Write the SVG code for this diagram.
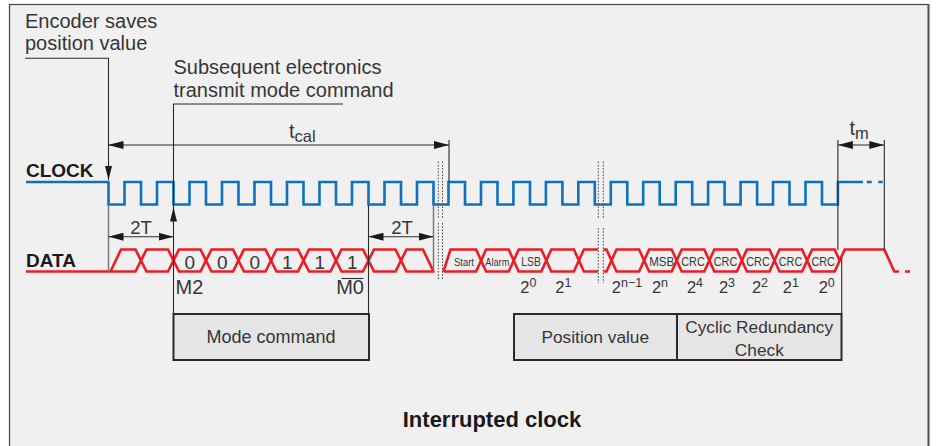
<svg xmlns="http://www.w3.org/2000/svg" width="936" height="446" viewBox="0 0 936 446">
<style>
.t{font-family:"Liberation Sans",Arial,sans-serif;fill:#363636;font-size:20px}
.b{font-family:"Liberation Sans",Arial,sans-serif;font-weight:bold;fill:#1a1a1a}
.s{font-family:"Liberation Sans",Arial,sans-serif;fill:#363636;text-anchor:middle}
.ln{stroke:#2b2b2b;stroke-width:1.1;fill:none}
.gl{stroke:#7a7a7a;stroke-width:1.5;fill:none}
.dot{stroke:#444;stroke-width:1;stroke-dasharray:1.6 1.6;fill:none}
.clk{stroke:#0a72bf;stroke-width:2.6;fill:none}
.dat{stroke:#ec1c24;stroke-width:2.6;fill:none;stroke-linejoin:miter}
.box{fill:#e5e5e5;stroke:#2a2a2a;stroke-width:2}
</style>
<defs>
<marker id="ah" markerUnits="userSpaceOnUse" markerWidth="15" markerHeight="8" viewBox="0 0 15 8" refX="15" refY="4" orient="auto-start-reverse"><path d="M0,0 L15,4 L0,8 z" fill="#1a1a1a"/></marker>
<marker id="an" markerUnits="userSpaceOnUse" markerWidth="14" markerHeight="7" viewBox="0 0 14 7" refX="14" refY="3.5" orient="auto"><path d="M0,0 L14,3.5 L0,7 z" fill="#1a1a1a"/></marker>
</defs>
<rect x="0" y="0" width="936" height="446" fill="#ffffff"/>
<g id="frame">
<rect x="9.5" y="4.5" width="919" height="450" fill="#f0f0f0" stroke="#444" stroke-width="1.2"/>
<line x1="928.5" y1="4" x2="928.5" y2="446" stroke="#555" stroke-width="2"/>
</g>

<g id="clock-signal">
<text class="b" x="26" y="177" font-size="19">CLOCK</text>
<path class="clk" d="M26,182 H108.5 V204.5 H124.5 V182 H141 V204.5 H157 V182 H173.5 V204.5 H189.5 V182 H206 V204.5 H222 V182 H238.5 V204.5 H254.5 V182 H271 V204.5 H287 V182 H303.5 V204.5 H319.5 V182 H336 V204.5 H352 V182 H368.5 V204.5 H384.5 V182 H401 V204.5 H417 V182 H433.5 V204.5 H448.5 V182 H465 V204.5 H481 V182 H497.5 V204.5 H513.4 V182 H530 V204.5 H545.9 V182 H562.4 V204.5 H578.3 V182 H594.8 V204.5 H610.8 V182 H627.3 V204.5 H643.2 V182 H659.7 V204.5 H675.7 V182 H692.2 V204.5 H708.1 V182 H724.6 V204.5 H740.6 V182 H757.1 V204.5 H773 V182 H789.5 V204.5 H805.5 V182 H822 V204.5 H837.9 V182 H863 M866.7,182 H871.7 M878.3,182 H882.7"/>
</g>

<g id="data-signal">
<text class="b" x="26" y="267" font-size="19">DATA</text>
<path class="dat" d="M110.5,271.5 L121,249.5 L135.5,249.5 L146.5,271.5 L168,271.5 L179,249.5 L200.5,249.5 L211.5,271.5 L233,271.5 L244,249.5 L265.5,249.5 L276.5,271.5 L298,271.5 L309,249.5 L330.5,249.5 L341.5,271.5 L363,271.5 L374,249.5 L395.5,249.5 L406.5,271.5 L434.5,271.5"/>
<path class="dat" d="M26,271.5 L135.5,271.5 L146.5,249.5 L168,249.5 L179,271.5 L200.5,271.5 L211.5,249.5 L233,249.5 L244,271.5 L265.5,271.5 L276.5,249.5 L298,249.5 L309,271.5 L330.5,271.5 L341.5,249.5 L363,249.5 L374,271.5 L395.5,271.5 L406.5,249.5 L423,249.5 L433.5,271.5"/>
<path class="dat" d="M443.5,271.5 L450.5,249.5 L476.1,249.5 L486.1,271.5 L508.7,271.5 L518.7,249.5 L541.3,249.5 L551.3,271.5 L573.9,271.5 L583.9,249.5 L598,249.5"/>
<path class="dat" d="M443.5,271.5 L476.1,271.5 L486.1,249.5 L508.7,249.5 L518.7,271.5 L541.3,271.5 L551.3,249.5 L573.9,249.5 L583.9,271.5 L598,271.5"/>
<path class="dat" d="M603.5,249.5 L606.5,249.5 L616.5,271.5 L639.1,271.5 L649.1,249.5 L671.7,249.5 L681.7,271.5 L704.3,271.5 L714.3,249.5 L736.9,249.5 L746.9,271.5 L769.5,271.5 L779.5,249.5 L802.1,249.5 L812.1,271.5 L834.7,271.5 L844.7,249.5 L884.3,249.5 L894.3,271.5 L899,271.5 M905,271.5 H910"/>
<path class="dat" d="M603.5,271.5 L606.5,271.5 L616.5,249.5 L639.1,249.5 L649.1,271.5 L671.7,271.5 L681.7,249.5 L704.3,249.5 L714.3,271.5 L736.9,271.5 L746.9,249.5 L769.5,249.5 L779.5,271.5 L802.1,271.5 L812.1,249.5 L834.7,249.5 L839.7,260.5"/>
</g>

<g id="bit-labels">
<text class="s" x="189.8" y="268.5" font-size="19">0</text>
<text class="s" x="222.3" y="268.5" font-size="19">0</text>
<text class="s" x="254.8" y="268.5" font-size="19">0</text>
<text class="s" x="287.3" y="268.5" font-size="19">1</text>
<text class="s" x="319.8" y="268.5" font-size="19">1</text>
<text class="s" x="352.3" y="268.5" font-size="19">1</text>
<text class="t" x="175.5" y="293.5" font-size="15">M2</text>
<text class="t" x="364" y="293.5" font-size="15" text-anchor="end">M0</text>
<line class="ln" x1="341.5" y1="278.5" x2="363.5" y2="278.5"/>
<text class="s" x="464" y="265.5" font-size="11" textLength="20" lengthAdjust="spacingAndGlyphs">Start</text>
<text class="s" x="497.3" y="265.5" font-size="11" textLength="24" lengthAdjust="spacingAndGlyphs">Alarm</text>
<text class="s" x="531" y="265.5" font-size="13" textLength="19.7" lengthAdjust="spacingAndGlyphs">LSB</text>
<text class="s" x="661.7" y="265.5" font-size="13" textLength="25" lengthAdjust="spacingAndGlyphs">MSB</text>
<text class="s" x="693" y="265.5" font-size="13" textLength="23.5" lengthAdjust="spacingAndGlyphs">CRC</text>
<text class="s" x="725.5" y="265.5" font-size="13" textLength="23.5" lengthAdjust="spacingAndGlyphs">CRC</text>
<text class="s" x="758" y="265.5" font-size="13" textLength="23.5" lengthAdjust="spacingAndGlyphs">CRC</text>
<text class="s" x="790.5" y="265.5" font-size="13" textLength="23.5" lengthAdjust="spacingAndGlyphs">CRC</text>
<text class="s" x="823.2" y="265.5" font-size="13" textLength="23.5" lengthAdjust="spacingAndGlyphs">CRC</text>
</g>

<g id="bit-weights" font-size="16.5">
<text class="s" x="528.3" y="292.5">2<tspan font-size="12.5" dy="-5.5">0</tspan></text>
<text class="s" x="563.3" y="292.5">2<tspan font-size="12.5" dy="-5.5">1</tspan></text>
<text class="s" x="627" y="292.5">2<tspan font-size="12.5" dy="-5.5">n−1</tspan></text>
<text class="s" x="660" y="292.5">2<tspan font-size="12.5" dy="-5.5">n</tspan></text>
<text class="s" x="695" y="292.5">2<tspan font-size="12.5" dy="-5.5">4</tspan></text>
<text class="s" x="727" y="292.5">2<tspan font-size="12.5" dy="-5.5">3</tspan></text>
<text class="s" x="760" y="292.5">2<tspan font-size="12.5" dy="-5.5">2</tspan></text>
<text class="s" x="790.8" y="292.5">2<tspan font-size="12.5" dy="-5.5">1</tspan></text>
<text class="s" x="826.7" y="292.5">2<tspan font-size="12.5" dy="-5.5">0</tspan></text>
</g>

<g id="breaks">
<path class="dot" d="M438.3,161.7 V217.7 M442.5,161.7 V217.7 M438.3,223 V280 M442.5,223 V280"/>
<path class="dot" d="M598.3,161.7 V217.7 M603.3,161.7 V217.7 M598.3,228 V283 M603.3,228 V283"/>
</g>

<g id="label-encoder">
<text class="t" x="25" y="28">Encoder saves</text>
<text class="t" x="25" y="50">position value</text>
</g>
<g id="label-electronics">
<text class="t" x="173.5" y="74" font-size="20.5">Subsequent electronics</text>
<text class="t" x="173.5" y="97" font-size="20.5">transmit mode command</text>
</g>
<g id="label-tcal">
<text class="t" x="289" y="138" font-size="19.5">t<tspan font-size="16.5" dy="4">cal</tspan></text>
</g>
<g id="label-tm">
<text class="t" x="849.5" y="135" font-size="19.5">t<tspan font-size="16.5" dy="4">m</tspan></text>
</g>
<g id="label-2T-left"><text class="s" x="141" y="233.5" font-size="18.5">2T</text></g>
<g id="label-2T-right"><text class="s" x="402" y="233.5" font-size="18.5">2T</text></g>

<g id="connectors">
<path class="ln" d="M25,58.3 H108.5 V180" marker-end="url(#an)"/>
<line class="gl" x1="108.5" y1="205" x2="108.5" y2="271.5"/>
<path class="ln" d="M343,104 H173.5 V314"/>
<line class="ln" x1="173.5" y1="224" x2="173.5" y2="207.5" marker-end="url(#an)"/>
<line class="ln" x1="368.5" y1="205" x2="368.5" y2="314"/>
<line class="gl" x1="433.5" y1="205" x2="433.5" y2="271.5"/>
<line class="ln" x1="449" y1="140" x2="449" y2="182"/>
<line class="ln" x1="108.5" y1="145" x2="449" y2="145" marker-start="url(#ah)" marker-end="url(#ah)"/>
<line class="ln" x1="108.5" y1="236.7" x2="173.5" y2="236.7" marker-start="url(#ah)" marker-end="url(#ah)"/>
<line class="ln" x1="368.5" y1="236.7" x2="433.5" y2="236.7" marker-start="url(#ah)" marker-end="url(#ah)"/>
<line class="ln" x1="837.9" y1="140" x2="837.9" y2="250"/>
<line class="ln" x1="884.3" y1="140" x2="884.3" y2="249.5"/>
<line class="ln" x1="837.9" y1="145" x2="884.3" y2="145" marker-start="url(#ah)" marker-end="url(#ah)"/>
<line class="ln" x1="841.7" y1="258" x2="841.7" y2="314"/>
</g>

<g id="mode-command">
<rect class="box" x="173.5" y="314" width="195.5" height="46"/>
<text class="s" x="271" y="343.3" font-size="18">Mode command</text>
</g>
<g id="position-value">
<rect class="box" x="514" y="314" width="163" height="46"/>
<text class="s" x="595.3" y="343.3" font-size="17.3">Position value</text>
</g>
<g id="crc">
<rect class="box" x="677" y="314" width="164.5" height="46"/>
<text class="s" x="759.2" y="333" font-size="17.3">Cyclic Redundancy</text>
<text class="s" x="759.3" y="355.5" font-size="17.3">Check</text>
</g>
<g id="title">
<text class="b" x="492" y="427" font-size="22" text-anchor="middle">Interrupted clock</text>
</g>
</svg>
